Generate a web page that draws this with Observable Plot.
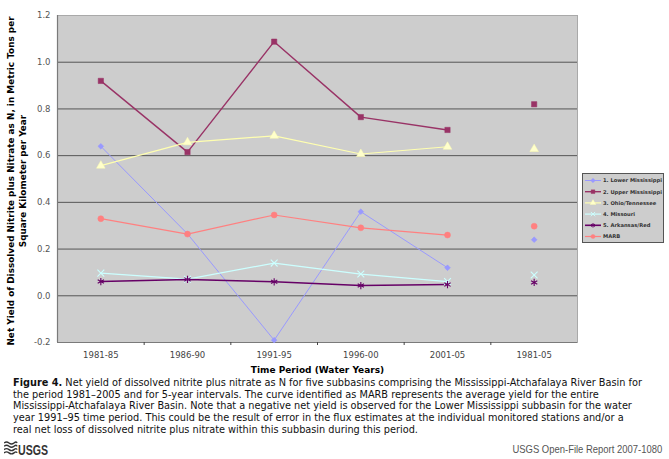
<!DOCTYPE html>
<html><head><meta charset="utf-8">
<script src="https://cdn.jsdelivr.net/npm/d3@7"></script>
<script src="https://cdn.jsdelivr.net/npm/@observablehq/plot@0.6"></script>
<style>
body{margin:0;background:#fff;font-family:"DejaVu Sans",Verdana,sans-serif;}
#wrap{position:relative;width:669px;height:459px;overflow:hidden;background:#fff;}
#chart{position:absolute;left:0;top:0;}
#legend{position:absolute;left:582px;top:173px;}
#caption{position:absolute;left:13px;top:377px;font-size:9.75px;line-height:11.7px;color:#111;white-space:nowrap;}
#logo{position:absolute;left:4px;top:438px;}
#report{position:absolute;right:7px;top:443px;font-family:"Liberation Sans",Arial,sans-serif;font-size:11px;color:#555;white-space:nowrap;transform:scaleX(0.86);transform-origin:right center;}
</style></head><body>
<div id="wrap">
<div id="chart"></div>
<div id="legend"></div>
<div id="caption"><b>Figure 4.</b> Net yield of dissolved nitrite plus nitrate as N for five subbasins comprising the Mississippi-Atchafalaya River Basin for<br>the period 1981–2005 and for 5-year intervals. The curve identified as MARB represents the average yield for the entire<br>Mississippi-Atchafalaya River Basin. Note that a negative net yield is observed for the Lower Mississippi subbasin for the water<br>year 1991–95 time period. This could be the result of error in the flux estimates at the individual monitored stations and/or a<br>real net loss of dissolved nitrite plus nitrate within this subbasin during this period.</div>
<div id="logo"></div>
<div id="report">USGS Open-File Report 2007-1080</div>
</div>
<script>
// ---- data ----
const periods = ["1981-85", "1986-90", "1991-95", "1996-00", "2001-05", "1981-05"];
const lowerMississippi = [0.64, 0.265, -0.19, 0.36, 0.12, 0.24];
const upperMississippi = [0.92, 0.615, 1.088, 0.765, 0.71, 0.82];
const ohioTennessee    = [0.557, 0.657, 0.685, 0.607, 0.638, 0.628];
const missouri         = [0.097, 0.071, 0.14, 0.093, 0.061, 0.089];
const arkansasRed      = [0.061, 0.07, 0.06, 0.044, 0.048, 0.057];
const marb             = [0.33, 0.264, 0.346, 0.291, 0.26, 0.298];
const seriesNames = ["1. Lower Mississippi", "2. Upper Mississippi", "3. Ohio/Tennessee", "4. Missouri", "5. Arkansas/Red", "MARB"];
const yTicks = [-0.2, 0.0, 0.2, 0.4, 0.6, 0.8, 1.0, 1.2];
const yTitle = "Net Yield of Dissolved Nitrite plus Nitrate as N, in Metric Tons per\nSquare Kilometer per Year";
const xTitle = "Time Period (Water Years)";

// ---- styles ----
const seriesValues = [lowerMississippi, upperMississippi, ohioTennessee, missouri, arkansasRed, marb];
const styles = [
  {stroke: "#9999ff", symbol: "diamond2", fill: "#9999ff", r: 2.6, sw: 1},
  {stroke: "#993366", symbol: "square", fill: "#993366", r: 3, sw: 1.4},
  {stroke: "#ffffb0", symbol: "triangle", fill: "#ffffcc", r: 3.2, sw: 1.2},
  {stroke: "#ccffff", symbol: "times", fill: "none", r: 3.2, sw: 1.2},
  {stroke: "#660066", symbol: "asterisk", fill: "none", r: 3.4, sw: 1.6},
  {stroke: "#ff8080", symbol: "circle", fill: "#ff8080", r: 3, sw: 1.2}
];
const rows = seriesValues.map((vals, s) => vals.map((v, i) => ({series: seriesNames[s], i, period: periods[i], value: v})));
const nTrend = periods.length - 1; // last period (1981-05) is a standalone point

const fmt = v => v.toFixed(1).replace("\u2212", "-");
const xDomain = [-0.5, periods.length - 0.5];
const yDomain = [yTicks[0], yTicks[yTicks.length - 1]];

const marks = [
  Plot.frame({fill: "#cdcdcd", stroke: "#a9a9a9"}),
  Plot.ruleY(yTicks.slice(1, -1), {stroke: "#555", strokeWidth: 1}),
  Plot.ruleY([yDomain[0]], {stroke: "#7a7a7a", strokeWidth: 1.2}),
  Plot.ruleX([xDomain[0]], {stroke: "#7a7a7a", strokeWidth: 1.2}),
  Plot.axisY({ticks: yTicks, tickSize: 0, tickPadding: 7, tickFormat: fmt, fontSize: 8.5, fill: "#555", label: null}),
  Plot.axisX({ticks: d3.range(periods.length), tickSize: 0, tickPadding: 9, tickFormat: i => periods[i], fontSize: 8.5, fill: "#444", label: null}),
  Plot.axisX({ticks: d3.range(1, periods.length).map(i => i - 0.5), tickSize: 3, tickFormat: () => "", stroke: "#444", label: null}),
  Plot.text([yTitle], {text: d => d, frameAnchor: "left", textAnchor: "middle", lineAnchor: "middle", rotate: -90, dx: -41, dy: 2, fontWeight: "bold", fontSize: 8.9, lineHeight: 1.35, fill: "#000"}),
  Plot.text([xTitle], {text: d => d, frameAnchor: "bottom", dy: 28, lineAnchor: "middle", fontWeight: "bold", fontSize: 9, fill: "#000"})
];
rows.forEach((r, s) => {
  const st = styles[s];
  marks.push(Plot.line(r.slice(0, nTrend), {x: "i", y: "value", stroke: st.stroke, strokeWidth: st.sw}));
});
rows.forEach((r, s) => {
  const st = styles[s];
  marks.push(Plot.dot(r, {x: "i", y: "value", symbol: () => st.symbol, r: st.r,
    fill: st.fill, stroke: st.stroke, strokeWidth: st.fill === "none" ? 1.1 : 0.5}));
});

const chart = Plot.plot({
  width: 669, height: 376,
  marginTop: 15, marginLeft: 57, marginRight: 92, marginBottom: 34,
  style: {fontFamily: "DejaVu Sans, Verdana, sans-serif", background: "transparent", overflow: "visible"},
  x: {type: "linear", domain: xDomain, axis: null},
  y: {domain: yDomain, axis: null},
  symbol: {type: "identity"},
  marks
});
document.getElementById("chart").append(chart);

// ---- legend ----
const lw = 82, lh = 70;
const lsvg = d3.select("#legend").append("svg").attr("width", lw).attr("height", lh);
lsvg.append("rect").attr("x", 0.5).attr("y", 0.5).attr("width", lw - 1).attr("height", lh - 1).attr("fill", "#cdcdcd").attr("stroke", "#555");
const symMap = {diamond2: d3.symbolDiamond2, square: d3.symbolSquare, triangle: d3.symbolTriangle, times: d3.symbolTimes, asterisk: d3.symbolAsterisk, circle: d3.symbolCircle};
seriesNames.forEach((name, s) => {
  const st = styles[s];
  const y = 7.5 + s * 11.2;
  const g = lsvg.append("g");
  g.append("line").attr("x1", 3).attr("x2", 19).attr("y1", y).attr("y2", y).attr("stroke", st.stroke).attr("stroke-width", st.sw);
  g.append("path").attr("d", d3.symbol(symMap[st.symbol], 14)()).attr("transform", `translate(11,${y})`)
    .attr("fill", st.fill).attr("stroke", st.stroke).attr("stroke-width", st.fill === "none" ? 1 : 0.4);
  g.append("text").attr("x", 21).attr("y", y).attr("dy", "0.35em").attr("font-size", 5.2).attr("font-weight", "bold")
    .attr("font-family", "DejaVu Sans, Verdana, sans-serif").attr("fill", "#333").text(name);
});

// ---- USGS logo ----
const logo = d3.select("#logo").append("svg").attr("width", 56).attr("height", 21);
for (let k = 0; k < 4; k++) {
  const y0 = 5 + k * 3.3;
  logo.append("path").attr("d", `M0,${y0} q2.5,-2 5,0 t5,0 t3,0`).attr("fill", "none").attr("stroke", "#333").attr("stroke-width", 1.4);
}
logo.append("text").attr("x", 14).attr("y", 17).attr("font-family", "Liberation Sans, Arial, sans-serif")
  .attr("font-weight", "bold").attr("font-size", 15).attr("textLength", 30).attr("lengthAdjust", "spacingAndGlyphs")
  .attr("fill", "#333").text("USGS");
</script>
</body></html>
